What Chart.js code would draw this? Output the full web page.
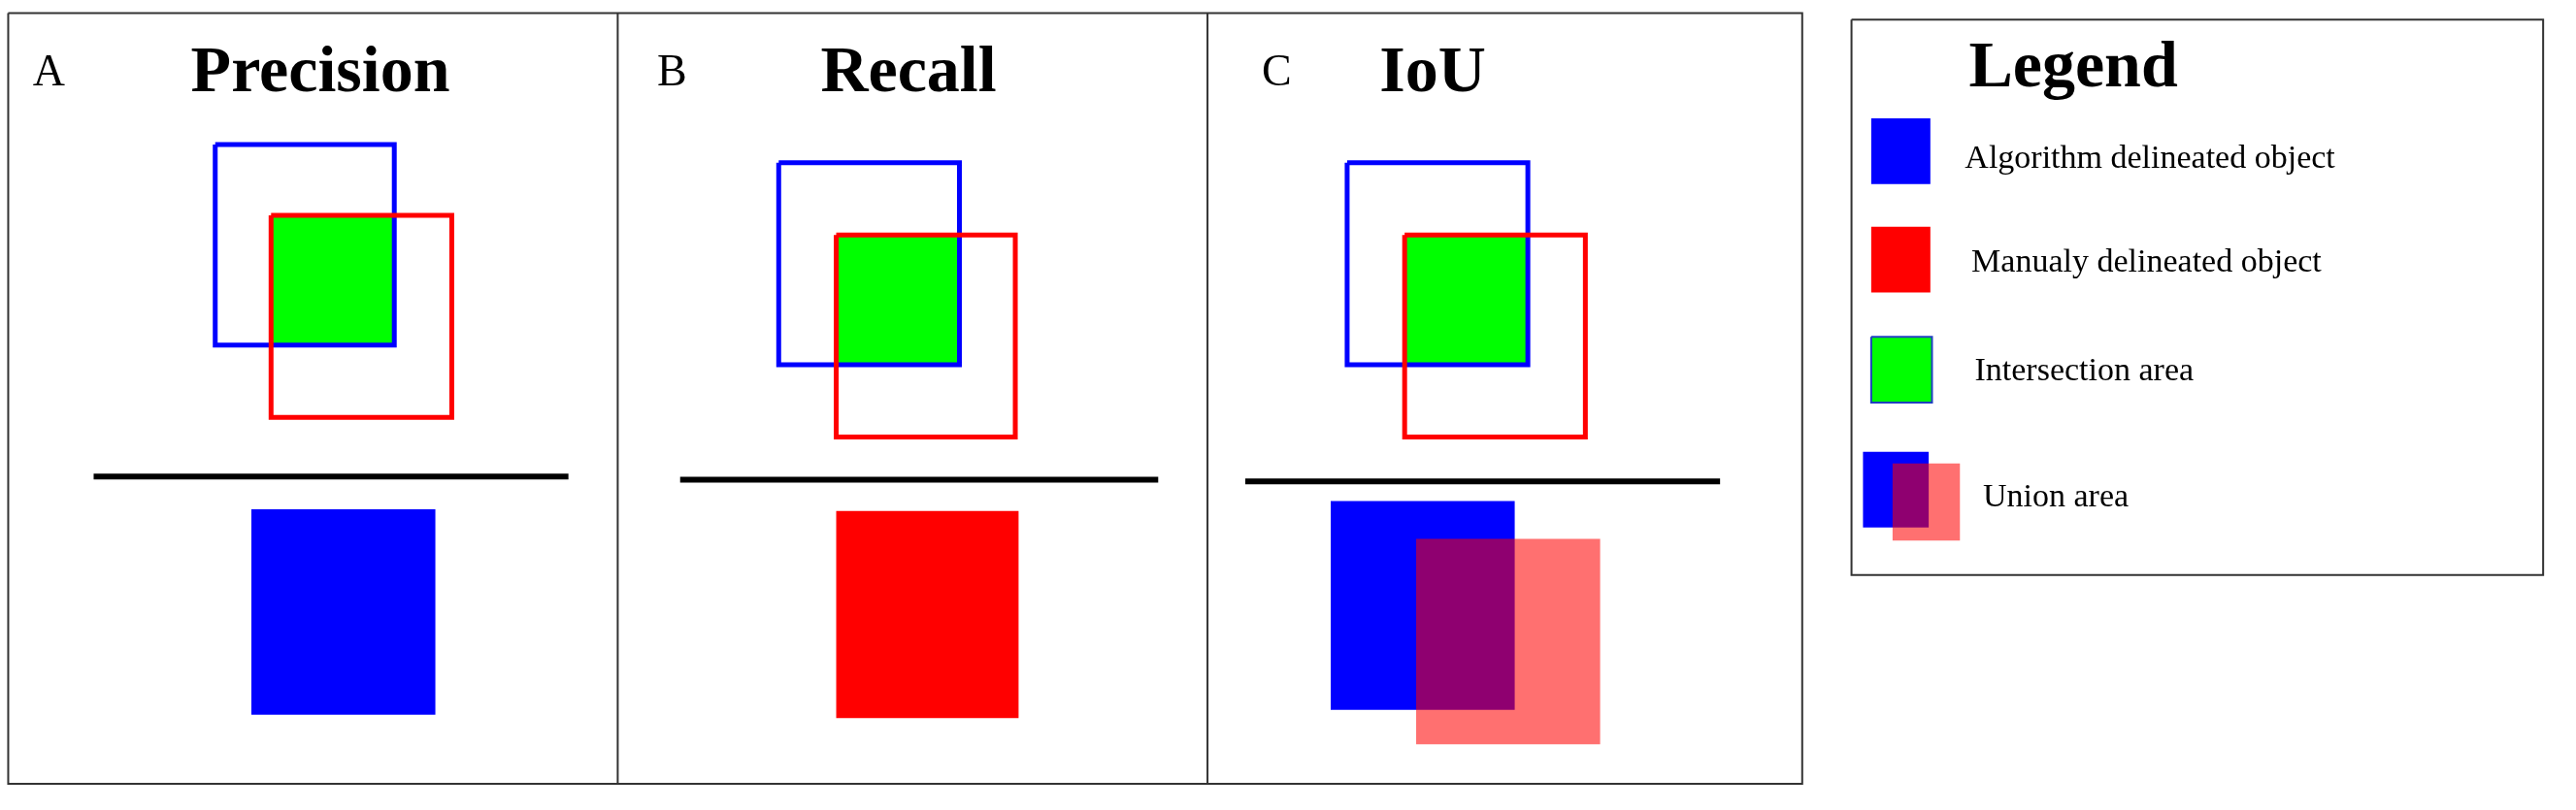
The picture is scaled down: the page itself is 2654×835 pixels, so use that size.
<!DOCTYPE html>
<html>
<head>
<meta charset="utf-8">
<script src="https://cdn.jsdelivr.net/npm/chart.js@4"></script>
<style>
  body { margin: 0; background: #fff; }
  canvas { display: block; }
</style>
</head>
<body>
<canvas id="fig" width="2654" height="835"></canvas>
<script>
// units: x 0..1568, y 0..493 (top to bottom)
const panelLabels = ['A', 'B', 'C'];
const panelTitles = ['Precision', 'Recall', 'IoU'];
const labelX = [20, 400, 768];
const titleX = [195, 553, 872];

// rectangles as [x1, y1, x2, y2]
const frameRect = [5, 8, 1097, 477];
const dividerX = [376, 735];
const legendRect = [1127, 12, 1548, 350];

const blueOutline = [[131, 88, 240, 210], [474, 99, 584, 222], [820, 99, 930, 222]];
const redOutline = [[165, 131, 275, 254], [509, 143, 618, 266], [855, 143, 965, 266]];
const greenFill = [[165, 131, 240, 210], [509, 143, 584, 222], [855, 143, 930, 222]];
const fractionLine = [[57, 346, 290], [414, 705, 292], [758, 1047, 293]];
const blueFill = [[153, 310, 265, 435], [810, 305, 922, 432], [1134, 275, 1174, 321], [1139, 72, 1175, 112]];
const redFill = [[509, 311, 620, 437], [1139, 138, 1175, 178]];
const pinkFill = [[862, 328, 974, 453], [1152, 282, 1193, 329]];
const legendGreen = [1139, 205, 1176, 245];

const legendTexts = ['Algorithm delineated object', 'Manualy delineated object', 'Intersection area', 'Union area'];
const legendTextX = [1196, 1200, 1202, 1207];
const legendTextY = [97, 160, 226, 303];

const BLUE = '#0000ff', RED = '#ff0000', GREEN = '#00ff00', PINK = 'rgba(255,0,0,0.56)';

function rectPts(r) {
  return [{x: r[0], y: r[1]}, {x: r[2], y: r[1]}, {x: r[2], y: r[3]}, {x: r[0], y: r[3]}, {x: r[0], y: r[1]}];
}

const datasets = [];
function addFill(r, color, border) {
  datasets.push({data: rectPts(r), backgroundColor: color, borderColor: border || color,
    borderWidth: border ? 2 : 0, fill: 'shape'});
}
function addOutline(r, color, w) {
  datasets.push({data: rectPts(r), borderColor: color, borderWidth: w, fill: false, borderJoinStyle: 'miter'});
}
function addLine(pts, color, w) {
  datasets.push({data: pts, borderColor: color, borderWidth: w, fill: false});
}

addOutline(frameRect, '#333', 2);
dividerX.forEach(x => addLine([{x: x, y: frameRect[1]}, {x: x, y: frameRect[3]}], '#333', 2));
addOutline(legendRect, '#333', 2);
greenFill.forEach(r => addFill(r, GREEN));
blueOutline.forEach(r => addOutline(r, BLUE, 5));
redOutline.forEach(r => addOutline(r, RED, 5));
fractionLine.forEach(l => addLine([{x: l[0], y: l[2]}, {x: l[1], y: l[2]}], '#000', 6));
blueFill.forEach(r => addFill(r, BLUE));
redFill.forEach(r => addFill(r, RED));
pinkFill.forEach(r => addFill(r, PINK));
addFill(legendGreen, GREEN, '#2040c0');
datasets.forEach((d, i) => { d.order = -i; d.pointRadius = 0; d.tension = 0; });

const textPlugin = {
  id: 'texts',
  afterDatasetsDraw(chart) {
    const {ctx, scales: {x, y}} = chart;
    ctx.save();
    ctx.fillStyle = '#000';
    ctx.textBaseline = 'middle';
    ctx.textAlign = 'left';
    ctx.font = '46px "Liberation Serif"';
    panelLabels.forEach((t, i) => ctx.fillText(t, x.getPixelForValue(labelX[i]), y.getPixelForValue(45)));
    ctx.textAlign = 'center';
    ctx.font = 'bold 68px "Liberation Serif"';
    panelTitles.forEach((t, i) => ctx.fillText(t, x.getPixelForValue(titleX[i]), y.getPixelForValue(45)));
    ctx.fillText('Legend', x.getPixelForValue(1262), y.getPixelForValue(42));
    ctx.textAlign = 'left';
    ctx.font = '34px "Liberation Serif"';
    legendTexts.forEach((t, i) => ctx.fillText(t, x.getPixelForValue(legendTextX[i]), y.getPixelForValue(legendTextY[i])));
    ctx.restore();
  }
};

new Chart(document.getElementById('fig'), {
  type: 'line',
  data: {datasets: datasets},
  options: {
    responsive: false,
    animation: false,
    layout: {padding: 0},
    plugins: {legend: {display: false}, tooltip: {enabled: false}},
    scales: {
      x: {type: 'linear', min: 0, max: 1568, display: false},
      y: {type: 'linear', min: 0, max: 493, reverse: true, display: false}
    }
  },
  plugins: [textPlugin]
});
</script>
</body>
</html>
